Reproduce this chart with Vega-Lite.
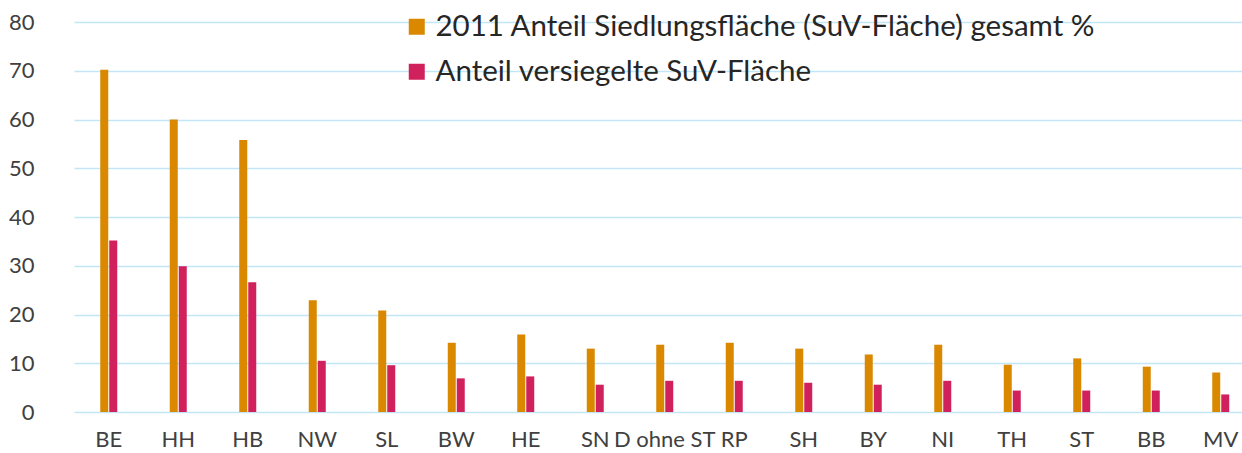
{
  "$schema": "https://vega.github.io/schema/vega-lite/v6.json",
  "width": 1180,
  "height": 390,
  "autosize": {"type": "none"},
  "padding": {"left": 58, "top": 22, "right": 4, "bottom": 41},
  "background": "white",
  "config": {
    "view": {"stroke": null},
    "font": "Lato"
  },
  "data": {
    "values": [
      {"land": "BE", "serie": "2011 Anteil Siedlungsfläche (SuV-Fläche) gesamt %", "wert": 70.2},
      {"land": "BE", "serie": "Anteil versiegelte SuV-Fläche", "wert": 35.2},
      {"land": "HH", "serie": "2011 Anteil Siedlungsfläche (SuV-Fläche) gesamt %", "wert": 60.0},
      {"land": "HH", "serie": "Anteil versiegelte SuV-Fläche", "wert": 29.9},
      {"land": "HB", "serie": "2011 Anteil Siedlungsfläche (SuV-Fläche) gesamt %", "wert": 55.8},
      {"land": "HB", "serie": "Anteil versiegelte SuV-Fläche", "wert": 26.6},
      {"land": "NW", "serie": "2011 Anteil Siedlungsfläche (SuV-Fläche) gesamt %", "wert": 22.9},
      {"land": "NW", "serie": "Anteil versiegelte SuV-Fläche", "wert": 10.5},
      {"land": "SL", "serie": "2011 Anteil Siedlungsfläche (SuV-Fläche) gesamt %", "wert": 20.8},
      {"land": "SL", "serie": "Anteil versiegelte SuV-Fläche", "wert": 9.6},
      {"land": "BW", "serie": "2011 Anteil Siedlungsfläche (SuV-Fläche) gesamt %", "wert": 14.2},
      {"land": "BW", "serie": "Anteil versiegelte SuV-Fläche", "wert": 6.9},
      {"land": "HE", "serie": "2011 Anteil Siedlungsfläche (SuV-Fläche) gesamt %", "wert": 15.9},
      {"land": "HE", "serie": "Anteil versiegelte SuV-Fläche", "wert": 7.3},
      {"land": "SN", "serie": "2011 Anteil Siedlungsfläche (SuV-Fläche) gesamt %", "wert": 13.0},
      {"land": "SN", "serie": "Anteil versiegelte SuV-Fläche", "wert": 5.6},
      {"land": "D ohne ST", "serie": "2011 Anteil Siedlungsfläche (SuV-Fläche) gesamt %", "wert": 13.8},
      {"land": "D ohne ST", "serie": "Anteil versiegelte SuV-Fläche", "wert": 6.4},
      {"land": "RP", "serie": "2011 Anteil Siedlungsfläche (SuV-Fläche) gesamt %", "wert": 14.2},
      {"land": "RP", "serie": "Anteil versiegelte SuV-Fläche", "wert": 6.4},
      {"land": "SH", "serie": "2011 Anteil Siedlungsfläche (SuV-Fläche) gesamt %", "wert": 13.0},
      {"land": "SH", "serie": "Anteil versiegelte SuV-Fläche", "wert": 6.0},
      {"land": "BY", "serie": "2011 Anteil Siedlungsfläche (SuV-Fläche) gesamt %", "wert": 11.8},
      {"land": "BY", "serie": "Anteil versiegelte SuV-Fläche", "wert": 5.6},
      {"land": "NI", "serie": "2011 Anteil Siedlungsfläche (SuV-Fläche) gesamt %", "wert": 13.8},
      {"land": "NI", "serie": "Anteil versiegelte SuV-Fläche", "wert": 6.4},
      {"land": "TH", "serie": "2011 Anteil Siedlungsfläche (SuV-Fläche) gesamt %", "wert": 9.7},
      {"land": "TH", "serie": "Anteil versiegelte SuV-Fläche", "wert": 4.4},
      {"land": "ST", "serie": "2011 Anteil Siedlungsfläche (SuV-Fläche) gesamt %", "wert": 11.0},
      {"land": "ST", "serie": "Anteil versiegelte SuV-Fläche", "wert": 4.4},
      {"land": "BB", "serie": "2011 Anteil Siedlungsfläche (SuV-Fläche) gesamt %", "wert": 9.3},
      {"land": "BB", "serie": "Anteil versiegelte SuV-Fläche", "wert": 4.4},
      {"land": "MV", "serie": "2011 Anteil Siedlungsfläche (SuV-Fläche) gesamt %", "wert": 8.1},
      {"land": "MV", "serie": "Anteil versiegelte SuV-Fläche", "wert": 3.6}
    ]
  },
  "mark": {"type": "bar", "width": 8},
  "encoding": {
    "x": {
      "field": "land",
      "type": "nominal",
      "sort": null,
      "scale": {"range": [16, 1197.5], "paddingInner": 0, "paddingOuter": 0},
      "axis": {
        "title": null,
        "labelAngle": 0,
        "labelFontSize": 22,
        "labelColor": "#404040",
        "labelPadding": 17,
        "ticks": false,
        "domain": false,
        "grid": false
      }
    },
    "xOffset": {
      "field": "serie",
      "type": "nominal",
      "scale": {"range": [25.75, 43.75], "paddingInner": 0, "paddingOuter": 0}
    },
    "y": {
      "field": "wert",
      "type": "quantitative",
      "scale": {"domain": [0, 80], "nice": false},
      "axis": {
        "title": null,
        "values": [0, 10, 20, 30, 40, 50, 60, 70, 80],
        "labelFontSize": 22,
        "labelColor": "#404040",
        "labelPadding": 24,
        "ticks": false,
        "domain": false,
        "grid": true,
        "gridColor": "#c3e6f7",
        "gridWidth": 1.5
      }
    },
    "color": {
      "field": "serie",
      "type": "nominal",
      "scale": {
        "domain": ["2011 Anteil Siedlungsfläche (SuV-Fläche) gesamt %", "Anteil versiegelte SuV-Fläche"],
        "range": ["#d98800", "#d0215c"]
      },
      "legend": {
        "title": null,
        "orient": "none",
        "legendX": 344,
        "legendY": -10,
        "symbolType": "square",
        "symbolSize": 256,
        "symbolStrokeWidth": 0,
        "labelFontSize": 29.5,
        "labelColor": "#262626",
        "labelOffset": 4,
        "rowPadding": 14,
        "labelLimit": 900
      }
    }
  }
}
